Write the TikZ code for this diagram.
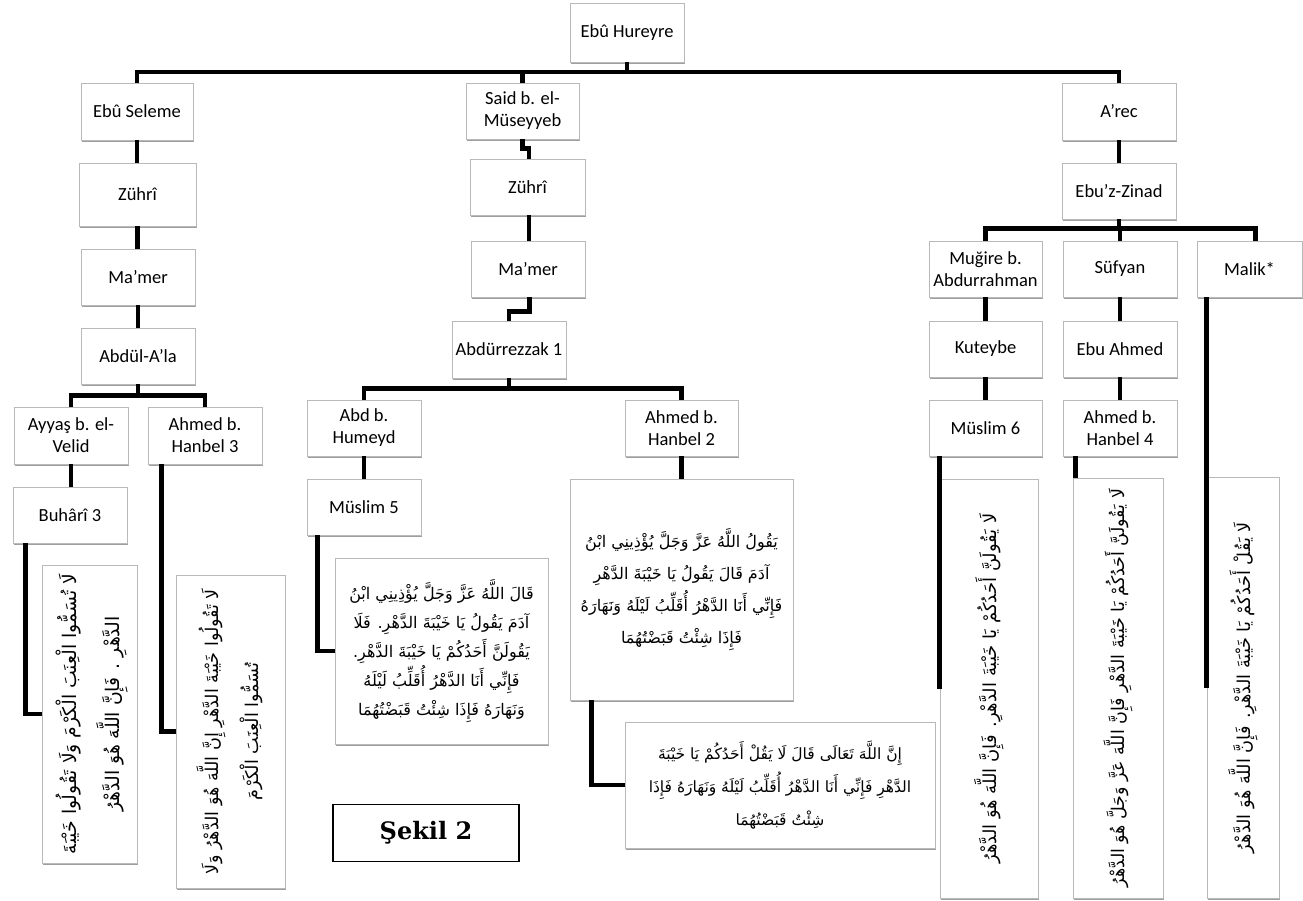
\documentclass[tikz,border=0pt]{standalone}
\usepackage{fontspec}
\usepackage{graphicx}
\setmainfont{Carlito}
\newfontfamily\arabicfont[Script=Arabic]{DejaVu Sans}
\newfontfamily\sekilfont{DejaVu Serif}
\TeXXeTstate=1
\usetikzlibrary{shadows}
\newcommand\artwo[3]{\resizebox{#1}{!}{\begin{tabular}{@{}c@{}}#2\\#3\end{tabular}}}
\tikzset{
  box/.style={draw=gray!55, fill=white, line width=0.9pt, inner sep=0pt, align=center,
    font=\fontsize{18.5}{22}\selectfont,
    drop shadow={shadow xshift=0.8pt, shadow yshift=-1.6pt, fill=gray!75, opacity=1}},
  tbox/.style={draw=gray!55, fill=white, line width=0.9pt, inner sep=0pt,
    drop shadow={shadow xshift=0.8pt, shadow yshift=-1.6pt, fill=gray!75, opacity=1}},
  conn/.style={line width=4.5pt, black},
  ar/.style={font=\arabicfont\fontsize{16}{30}\selectfont, align=center, inner sep=0pt},
  arrot/.style={font=\arabicfont\fontsize{13}{30}\selectfont, inner sep=0pt, rotate=90},
}
\newcommand\bx[6]{\node[box, minimum width={(#4-#2)*1pt}, minimum height={(#5-#3)*1pt}] (#1) at ({(#2+#4)/2},{(#3+#5)/2}) {#6};}
\newcommand\tb[5]{\node[tbox, minimum width={(#4-#2)*1pt}, minimum height={(#5-#3)*1pt}] (#1) at ({(#2+#4)/2},{(#3+#5)/2}) {};}
\begin{document}
\begin{tikzpicture}[x=1pt,y=-1pt]
\useasboundingbox[fill=white] (0,0) rectangle (1303,900);
% name boxes
\bx{H}{570}{3}{684}{62}{Ebû Hureyre}
\bx{ES}{81}{83}{193}{140}{Ebû Seleme}
\bx{SM}{466}{83}{579}{139}{Said b. el-\\Müseyyeb}
\bx{AR}{1062}{83}{1176}{140}{A'rec}
\bx{ZA}{79}{163}{196}{226}{Zührî}
\bx{ZB}{470}{159}{585}{215}{Zührî}
\bx{EZ}{1062}{163}{1176}{219}{Ebu'z-Zinad}
\bx{MA1}{81}{249}{195}{305}{Ma'mer}
\bx{MA2}{471}{241}{585}{297}{Ma'mer}
\bx{MG}{929}{241}{1042}{297}{Muğire b.\\Abdurrahman}
\bx{SF}{1063}{241}{1177}{297}{Süfyan}
\bx{ML}{1197}{241}{1302}{297}{Malik*}
\bx{AA}{81}{328}{195}{384}{Abdül-A'la}
\bx{AZ}{452}{321}{566}{378}{Abdürrezzak 1}
\bx{KT}{929}{321}{1042}{377}{Kuteybe}
\bx{EA}{1063}{321}{1177}{377}{Ebu Ahmed}
\bx{AY}{14}{407}{128}{464}{Ayyaş b. el-\\Velid}
\bx{AH3}{148}{407}{262}{464}{Ahmed b.\\Hanbel 3}
\bx{AB}{307}{400}{421}{456}{Abd b.\\Humeyd}
\bx{AH2}{625}{400}{738}{456}{Ahmed b.\\Hanbel 2}
\bx{MS6}{929}{400}{1042}{456}{Müslim 6}
\bx{AH4}{1063}{400}{1177}{456}{Ahmed b.\\Hanbel 4}
\bx{BU}{13}{487}{127}{543}{Buhârî 3}
\bx{MS5}{307}{479}{421}{535}{Müslim 5}
% text boxes
\tb{TBU}{42}{565}{137}{863}
\tb{TAH3}{176}{575}{285}{888}
\tb{TMS5}{335}{558}{548}{744}
\tb{TAH2}{570}{479}{793}{700}
\tb{TBOT}{625}{722}{935}{848}
\tb{TMS6}{940}{479}{1038}{898}
\tb{TAH4}{1073}{478}{1163}{898}
\tb{TML}{1207}{477}{1279}{898}
% arabic texts
\node[arrot] (xBU) at (TBU.center) {\artwo{280pt}{\beginR لَا تُسَمُّوا الْعِنَبَ الْكَرْمَ وَلَا تَقُولُوا خَيْبَةَ\endR}{\beginR الدَّهْرِ . فَإِنَّ اللَّهَ هُوَ الدَّهْرُ\endR}};
\node[arrot] (xAH3) at (TAH3.center) {\artwo{285pt}{\beginR لَا تَقُولُوا خَيْبَةَ الدَّهْرِ إِنَّ اللَّهَ هُوَ الدَّهْرُ وَلَا\endR}{\beginR تُسَمُّوا الْعِنَبَ الْكَرْمَ\endR}};
\node[ar, font=\arabicfont\fontsize{16}{29}\selectfont] (xMS5) at (TMS5.center) {\beginR قَالَ اللَّهُ عَزَّ وَجَلَّ يُؤْذِينِي ابْنُ\endR\\\beginR آدَمَ يَقُولُ يَا خَيْبَةَ الدَّهْرِ. فَلَا\endR\\\beginR يَقُولَنَّ أَحَدُكُمْ يَا خَيْبَةَ الدَّهْرِ.\endR\\\beginR فَإِنِّي أَنَا الدَّهْرُ أُقَلِّبُ لَيْلَهُ\endR\\\beginR وَنَهَارَهُ فَإِذَا شِئْتُ قَبَضْتُهُمَا\endR};
\node[ar, font=\arabicfont\fontsize{16}{32}\selectfont] (xAH2) at (TAH2.center) {\beginR يَقُولُ اللَّهُ عَزَّ وَجَلَّ يُؤْذِينِي ابْنُ\endR\\\beginR آدَمَ قَالَ يَقُولُ يَا خَيْبَةَ الدَّهْرِ\endR\\\beginR فَإِنِّي أَنَا الدَّهْرُ أُقَلِّبُ لَيْلَهُ وَنَهَارَهُ\endR\\\beginR فَإِذَا شِئْتُ قَبَضْتُهُمَا\endR};
\node[ar, font=\arabicfont\fontsize{15.5}{33}\selectfont] (xBOT) at (TBOT.center) {\beginR إِنَّ اللَّهَ تَعَالَى قَالَ لَا يَقُلْ أَحَدُكُمْ يَا خَيْبَةَ\endR\\\beginR الدَّهْرِ فَإِنِّي أَنَا الدَّهْرُ أُقَلِّبُ لَيْلَهُ وَنَهَارَهُ فَإِذَا\endR\\\beginR شِئْتُ قَبَضْتُهُمَا\endR};
\node[arrot] (xMS6) at (TMS6.center) {\resizebox{350pt}{!}{\beginR لَا يَقُولَنَّ أَحَدُكُمْ يَا خَيْبَةَ الدَّهْرِ. فَإِنَّ اللَّهَ هُوَ الدَّهْرُ\endR}};
\node[arrot] (xAH4) at (TAH4.center) {\resizebox{398pt}{!}{\beginR لَا يَقُولَنَّ أَحَدُكُمْ يَا خَيْبَةَ الدَّهْرِ فَإِنَّ اللَّهَ عَزَّ وَجَلَّ هُوَ الدَّهْرُ\endR}};
\node[arrot] (xML) at (TML.center) {\resizebox{331pt}{!}{\beginR لَا يَقُلْ أَحَدُكُمْ يَا خَيْبَةَ الدَّهْرِ. فَإِنَّ اللَّهَ هُوَ الدَّهْرُ\endR}};
% figure label
\node[draw=black, line width=1.6pt, minimum width=186pt, minimum height=57pt, inner sep=0pt,
  font=\sekilfont\bfseries\fontsize{24}{28}\selectfont] (sekil) at (426,833) {Şekil 2};
% connectors: top
\coordinate (barY) at (0,72);
\draw[conn] (H.south) -- (H.south |- barY);
\draw[conn] (ES.north) -- (ES.north |- barY) -- (AR.north |- barY) -- (AR.north);
\draw[conn] (SM.north) -- (SM.north |- barY);
% left column
\draw[conn] (ES.south) -- (ES.south |- ZA.north);
\draw[conn] (ZA.south) -- (ZA.south |- MA1.north);
\draw[conn] (MA1.south) -- (MA1.south |- AA.north);
\draw[conn] (AA.south) -- ++(0,12);
\draw[conn] (AY.north) -- ++(0,-11) -| (AH3.north);
\draw[conn] (AY.south) -- (AY.south |- BU.north);
\draw[conn] ([xshift=13pt]BU.south west) |- (TBU.west);
\draw[conn] ([xshift=14pt]AH3.south west) |- (TAH3.west);
% middle column
\draw[conn] (SM.south) -- ++(0,9) -| ([xshift=1.5pt]ZB.north);
\draw[conn] ([xshift=1.5pt]ZB.south) -- ([xshift=1.5pt]ZB.south |- MA2.north);
\draw[conn] ([xshift=1.5pt]MA2.south) -- ++(0,14) -| (AZ.north);
\draw[conn] (AZ.south) -- ++(0,11);
\draw[conn] (AB.north) -- ++(0,-11) -| (AH2.north);
\draw[conn] (AB.south) -- (AB.south |- MS5.north);
\draw[conn] ([xshift=11pt]MS5.south west) |- (TMS5.west);
\draw[conn] (AH2.south) -- (AH2.south |- TAH2.north);
\draw[conn] ([xshift=22pt]TAH2.south west) |- (TBOT.west);
% right column
\draw[conn] (AR.south) -- (AR.south |- EZ.north);
\draw[conn] (EZ.south) -- ++(0,10);
\draw[conn] (MG.north) -- ++(0,-12) -| ([xshift=6pt]ML.north);
\draw[conn] (SF.north) -- ++(0,-12);
\draw[conn] (MG.south) -- (MG.south |- KT.north);
\draw[conn] (KT.south) -- (KT.south |- MS6.north);
\draw[conn] (SF.south) -- (SF.south |- EA.north);
\draw[conn] (EA.south) -- (EA.south |- AH4.north);
\draw[conn] (TMS6.west |- MS6.south) -- (TMS6.west);
\draw[conn] ([xshift=3pt]TAH4.north west |- AH4.south) -- ([xshift=3pt]TAH4.north west);
\draw[conn] (TML.west |- ML.south) -- (TML.west);
\end{tikzpicture}
\end{document}
